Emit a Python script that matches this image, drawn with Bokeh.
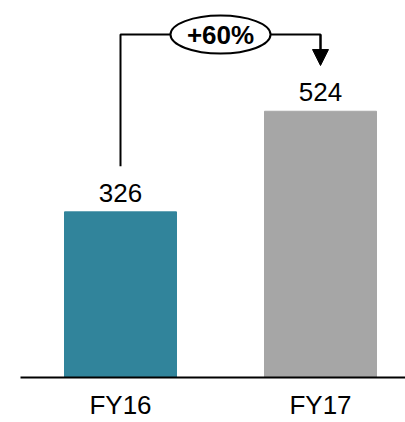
from bokeh.plotting import figure
from bokeh.models import Range1d, FixedTicker, Arrow, NormalHead, ColumnDataSource
from bokeh.core.properties import value
from bokeh.embed import file_html
from bokeh.resources import INLINE

categories = ["FY16", "FY17"]
values = [326, 524]
value_labels = ["326", "524"]
growth_label = "+60%"
colors = ["#31849B", "#A6A6A6"]

xs = list(range(len(categories)))
src = ColumnDataSource(dict(x=xs, top=values, label=value_labels, color=colors))

p = figure(width=405, height=422, output_backend="svg", toolbar_location=None,
           x_range=Range1d(-0.5, 1.425), y_range=Range1d(0, 742),
           y_axis_location=None, min_border_left=20, min_border_right=0,
           min_border_top=0, min_border_bottom=43)
p.outline_line_color = None
p.xgrid.visible = False
p.ygrid.visible = False

p.vbar(x="x", top="top", width=0.56, bottom=0, color="color", source=src)

p.text(x="x", y="top", text="label", source=src, text_align="center",
       text_baseline="alphabetic", y_offset=-19,
       text_font=value("Liberation Sans"), text_font_size="26px", text_color="#000000")

# connector
y_br = 675
y_start = values[0] + 90
y_tip = values[1] + 90
p.line(x=[xs[0], xs[0], xs[1], xs[1]], y=[y_start, y_br, y_br, y_tip + 20],
       line_color="black", line_width=2)
p.add_layout(Arrow(end=NormalHead(size=16, fill_color="black", line_color="black", line_width=1),
                   x_start=xs[1], y_start=y_br, x_end=xs[1], y_end=y_tip,
                   line_color="black", line_width=2))
p.ellipse(x=[0.5], y=[y_br], width=100, height=38, width_units="screen", height_units="screen",
          fill_color="white", line_color="black", line_width=2)
p.text(x=[0.5], y=[y_br], text=[growth_label], text_align="center", text_baseline="middle",
       text_font=value("Liberation Sans"), text_font_style="bold", text_font_size="26px",
       text_color="#000000")

ax = p.xaxis[0]
ax.ticker = FixedTicker(ticks=xs)
ax.major_label_overrides = {i: c for i, c in zip(xs, categories)}
ax.major_tick_line_color = None
ax.minor_tick_line_color = None
ax.major_tick_out = 0
ax.major_tick_in = 0
ax.axis_line_width = 2
ax.axis_line_color = "black"
ax.major_label_standoff = 12
ax.major_label_text_font = "Liberation Sans"
ax.major_label_text_font_size = "26px"
ax.major_label_text_color = "#000000"

open("out.html", "w").write(file_html(p, INLINE))
